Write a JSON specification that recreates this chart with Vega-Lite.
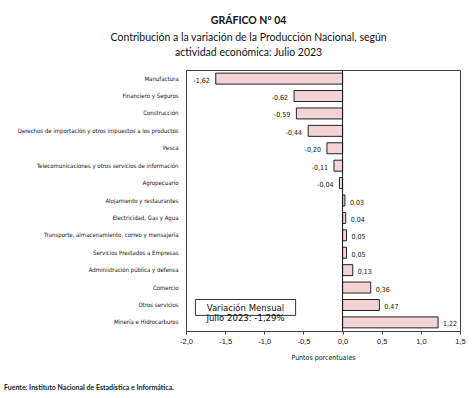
{
  "$schema": "https://vega.github.io/schema/vega-lite/v6.json",
  "padding": {"left": 3, "top": 16, "right": 8, "bottom": 2},
  "background": "white",
  "config": {
    "locale": {"number": {"decimal": ",", "thousands": ".", "grouping": [3], "currency": ["", ""], "minus": "-"}},
    "view": {"stroke": "#404040", "strokeWidth": 1, "strokeOpacity": 1},
    "style": {"cell": {"stroke": "#404040", "strokeWidth": 1, "strokeOpacity": 1}},
    "font": "DejaVu Sans Condensed, Liberation Sans"
  },
  "title": {
    "text": "GRÁFICO Nº 04",
    "subtitle": ["Contribución a la variación de la Producción Nacional, según", "actividad económica: Julio 2023"],
    "anchor": "middle",
    "frame": "bounds",
    "font": "Lato",
    "fontSize": 10.5,
    "fontWeight": "bold",
    "color": "#111",
    "subtitleFont": "Lato",
    "subtitleFontSize": 10.5,
    "subtitleColor": "#111",
    "subtitleLineHeight": 15,
    "subtitlePadding": 6,
    "offset": 11,
    "dx": 14
  },
  "vconcat": [
    {
      "width": 274,
      "height": 261,
      "view": {"stroke": "#404040", "strokeWidth": 1, "strokeOpacity": 1},
      "title": {
        "text": "Fuente:  Instituto Nacional de Estadística e Informática.",
        "orient": "bottom",
        "anchor": "start",
        "frame": "bounds",
        "font": "Lato",
        "fontSize": 7,
        "fontWeight": "bold",
        "color": "#222",
        "offset": 23
      },
      "data": {
        "values": [
          {"sector": "Manufactura", "valor": -1.62},
          {"sector": "Financiero y Seguros", "valor": -0.62},
          {"sector": "Construcción", "valor": -0.59},
          {"sector": "Derechos de importación y otros impuestos a los productos", "valor": -0.44},
          {"sector": "Pesca", "valor": -0.20},
          {"sector": "Telecomunicaciones y otros servicios de información", "valor": -0.11},
          {"sector": "Agropecuario", "valor": -0.04},
          {"sector": "Alojamiento y restaurantes", "valor": 0.03},
          {"sector": "Electricidad, Gas y Agua", "valor": 0.04},
          {"sector": "Transporte, almacenamiento, correo y mensajería", "valor": 0.05},
          {"sector": "Servicios Prestados a Empresas", "valor": 0.05},
          {"sector": "Administración pública y defensa", "valor": 0.13},
          {"sector": "Comercio", "valor": 0.36},
          {"sector": "Otros servicios", "valor": 0.47},
          {"sector": "Minería e Hidrocarburos", "valor": 1.22}
        ]
      },
      "encoding": {
        "y": {
          "field": "sector",
          "type": "nominal",
          "sort": null,
          "scale": {"paddingInner": 0.37, "paddingOuter": 0.18},
          "axis": {
            "title": null,
            "ticks": false,
            "domain": true,
            "domainColor": "#404040",
            "domainWidth": 1,
            "labelFont": "DejaVu Sans Condensed, Liberation Sans",
            "labelFontSize": 6,
            "labelColor": "#111",
            "labelPadding": 8,
            "labelLimit": 300,
            "minExtent": 182,
            "maxExtent": 182
          }
        },
        "x": {
          "field": "valor",
          "type": "quantitative",
          "scale": {"domain": [-2, 1.5], "nice": false},
          "axis": {
            "title": "Puntos porcentuales",
            "titleFont": "DejaVu Sans Condensed, Liberation Sans",
            "titleFontSize": 7,
            "titleFontWeight": "normal",
            "titleColor": "#111",
            "titlePadding": 9,
            "values": [-2, -1.5, -1, -0.5, 0, 0.5, 1, 1.5],
            "format": ".1f",
            "labelFont": "Liberation Sans",
            "labelFontSize": 7.5,
            "labelColor": "#111",
            "labelOverlap": false,
            "labelFlush": false,
            "grid": false,
            "domain": true,
            "domainColor": "#404040",
            "domainWidth": 1,
            "ticks": true,
            "tickSize": 3,
            "tickWidth": 1,
            "tickColor": "#404040",
            "labelPadding": 3
          }
        }
      },
      "layer": [
        {
          "mark": {"type": "bar", "fill": "#f3d3d3", "stroke": "#222", "strokeWidth": 1}
        },
        {
          "transform": [{"filter": "datum.valor < 0"}],
          "mark": {"type": "text", "align": "right", "dx": -6, "dy": 2, "fontSize": 7, "font": "DejaVu Sans Condensed, Liberation Sans", "color": "#111"},
          "encoding": {
            "text": {"field": "valor", "type": "quantitative", "format": ".2f"}
          }
        },
        {
          "transform": [{"filter": "datum.valor >= 0"}],
          "mark": {"type": "text", "align": "left", "dx": 5, "dy": 2, "fontSize": 7, "font": "DejaVu Sans Condensed, Liberation Sans", "color": "#111"},
          "encoding": {
            "text": {"field": "valor", "type": "quantitative", "format": ".2f"}
          }
        },
        {
          "data": {"values": [{"valor": 0}]},
          "mark": {"type": "rule", "color": "#111", "strokeWidth": 1},
          "encoding": {"y": null}
        },
        {
          "data": {"values": [{"valor": -1.88, "valor2": -0.6, "y1": "Otros servicios", "y2": "Minería e Hidrocarburos"}]},
          "mark": {"type": "rect", "fill": "white", "stroke": "#333", "strokeWidth": 1, "y2Offset": -7},
          "encoding": {
            "x2": {"field": "valor2"},
            "y": {"field": "y1", "type": "nominal", "bandPosition": 0},
            "y2": {"field": "y2"}
          }
        },
        {
          "data": {"values": [{"valor": -1.24, "sector": "Otros servicios", "nota": ["Variación Mensual", "Julio 2023: -1,29%"]}]},
          "mark": {"type": "text", "align": "center", "baseline": "middle", "dy": 3, "fontSize": 9.5, "lineHeight": 10, "font": "DejaVu Sans Condensed, Liberation Sans", "color": "#111"},
          "encoding": {
            "text": {"field": "nota"}
          }
        }
      ]
    }
  ]
}
